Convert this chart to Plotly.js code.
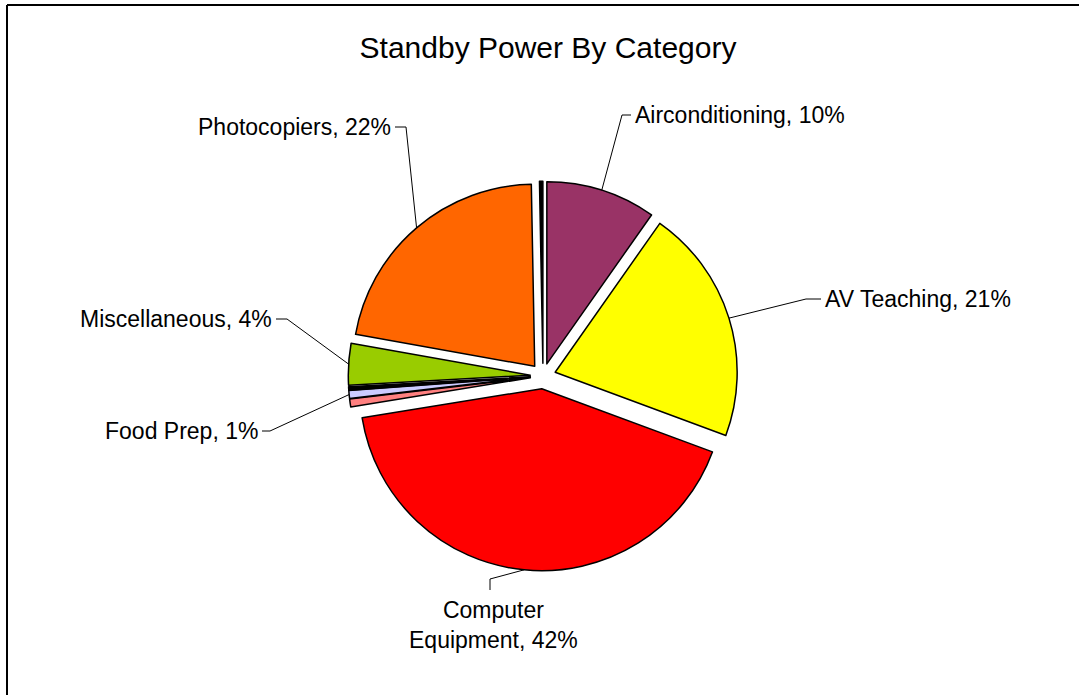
<!DOCTYPE html>
<html>
<head>
<meta charset="utf-8">
<script src="https://cdn.plot.ly/plotly-3.0.1.min.js"></script>
<style>html,body{margin:0;padding:0;background:#fff;}#chart{width:1079px;height:695px;}</style>
</head>
<body>
<div id="chart"></div>
<script>
// ---- data (clockwise from 12 o'clock) ----
var categories = ["Airconditioning", "AV Teaching", "Computer Equipment", "Other A", "Food Prep", "Other B", "Miscellaneous", "Photocopiers", "Other C"];
var values = [9.8, 21.0, 42.0, 0.7, 0.7, 0.3, 3.7, 22.0, 0.3];
var sliceColors = ["#993366", "#FFFF00", "#FF0000", "#FF8080", "#CCCCFF", "#000000", "#99CC00", "#FF6600", "#000000"];
var labelled = [true, true, true, false, true, false, true, true, false];
var labelText = ["Airconditioning", "AV Teaching", "Computer<br>Equipment", "", "Food Prep", "", "Miscellaneous", "Photocopiers", ""];

// ---- layout geometry (pixels) ----
var W = 1079, H = 695;
var CX = 543, CY = 376, R = 182, PULL = 0.07;
var half = R * (1 + PULL);
// label anchor points (px) and alignment
var labelPos = {
  0: {x: 633, y: 115, xa: "left", ya: "middle", lead: [[631,115],[622,115]]},
  1: {x: 823, y: 299, xa: "left", ya: "middle", lead: [[821,299],[806,299]]},
  2: {x: 493, y: 625, xa: "center", ya: "middle", lead: [[490,590],[490,579]]},
  4: {x: 260, y: 431, xa: "right", ya: "middle", lead: [[262,431],[270,431]]},
  6: {x: 274, y: 319, xa: "right", ya: "middle", lead: [[276,319],[287,319]]},
  7: {x: 393, y: 127, xa: "right", ya: "middle", lead: [[395,127],[406,127]]}
};

function px2x(x){ return x / W; }
function px2y(y){ return 1 - y / H; }

var total = values.reduce(function(a,b){return a+b;}, 0);
var annotations = [];
var shapes = [];
var cum = 0;
for (var i = 0; i < values.length; i++) {
  var a0 = cum / total * 2 * Math.PI;
  cum += values[i];
  var a1 = cum / total * 2 * Math.PI;
  var am = (a0 + a1) / 2;
  var ox = CX + PULL * R * Math.sin(am), oy = CY - PULL * R * Math.cos(am);
  var tx = ox + R * Math.sin(am), ty = oy - R * Math.cos(am);
  if (labelled[i]) {
    var lp = labelPos[i];
    var pct = Math.round(values[i] / total * 100);
    annotations.push({
      xref: "paper", yref: "paper", x: px2x(lp.x), y: px2y(lp.y),
      xanchor: lp.xa, yanchor: lp.ya, showarrow: false,
      text: labelText[i] + ", " + pct + "%",
      font: {family: "Liberation Sans, Arial, sans-serif", size: 23, color: "#000"}
    });
    var pts = lp.lead.concat([[tx, ty]]);
    var d = "M " + pts.map(function(p){ return px2x(p[0]) + "," + px2y(p[1]); }).join(" L ");
    shapes.push({type: "path", xref: "paper", yref: "paper", path: d, line: {color: "#000", width: 1}});
  }
}
// chart area border (top and left edges)
shapes.push({type: "line", xref: "paper", yref: "paper", x0: px2x(7), y0: px2y(5), x1: 1, y1: px2y(5), line: {color: "#000", width: 2}});
shapes.push({type: "line", xref: "paper", yref: "paper", x0: px2x(7), y0: px2y(5), x1: px2x(7), y1: 0, line: {color: "#000", width: 2}});

var trace = {
  type: "pie",
  labels: categories,
  values: values,
  sort: false,
  direction: "clockwise",
  rotation: 0,
  pull: values.map(function(){ return PULL; }),
  marker: {colors: sliceColors, line: {color: "#000", width: 1.5}},
  textinfo: "none",
  hoverinfo: "label+percent",
  showlegend: false,
  domain: {x: [px2x(CX - half), px2x(CX + half)], y: [px2y(CY + half), px2y(CY - half)]}
};

var layout = {
  width: W, height: H,
  margin: {l: 0, r: 0, t: 0, b: 0},
  paper_bgcolor: "#fff",
  showlegend: false,
  title: {text: "Standby Power By Category", x: px2x(548), xanchor: "center", y: px2y(47), yanchor: "middle",
          font: {family: "Liberation Sans, Arial, sans-serif", size: 30, color: "#000"}},
  annotations: annotations,
  shapes: shapes
};

Plotly.newPlot("chart", [trace], layout, {displayModeBar: false, staticPlot: true});
</script>
</body>
</html>
